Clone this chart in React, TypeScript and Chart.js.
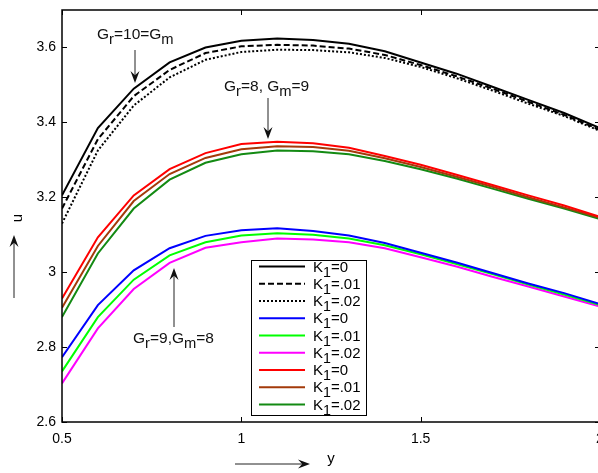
import React, { useEffect, useRef } from "react";
import { Chart, registerables } from "chart.js";
Chart.register(...registerables);

const FONT = "'Liberation Sans', Arial, Helvetica, sans-serif";

// x positions (y coordinate in the physical problem)
const xValues = [0.5, 0.6, 0.7, 0.8, 0.9, 1.0, 1.1, 1.2, 1.3, 1.4, 1.5, 1.6, 1.7, 1.8, 1.9, 2.0];

// Gr = 10 = Gm
const grp1K0 = [3.205, 3.385, 3.49, 3.56, 3.6, 3.618, 3.624, 3.62, 3.61, 3.59, 3.56, 3.53, 3.495, 3.46, 3.425, 3.385];
const grp1K01 = [3.17, 3.355, 3.47, 3.54, 3.585, 3.603, 3.607, 3.605, 3.597, 3.58, 3.553, 3.523, 3.49, 3.455, 3.42, 3.38];
const grp1K02 = [3.13, 3.325, 3.445, 3.52, 3.567, 3.588, 3.594, 3.593, 3.587, 3.572, 3.548, 3.518, 3.485, 3.45, 3.417, 3.377];

// Gr = 9, Gm = 8
const grp2K0 = [2.773, 2.912, 3.005, 3.064, 3.097, 3.112, 3.117, 3.11, 3.098, 3.078, 3.052, 3.026, 2.998, 2.97, 2.944, 2.915];
const grp2K01 = [2.735, 2.88, 2.98, 3.045, 3.08, 3.098, 3.104, 3.1, 3.09, 3.072, 3.048, 3.022, 2.995, 2.967, 2.94, 2.912];
const grp2K02 = [2.703, 2.85, 2.955, 3.025, 3.065, 3.08, 3.09, 3.087, 3.08, 3.064, 3.04, 3.015, 2.988, 2.962, 2.935, 2.908];

// Gr = 8, Gm = 9
const grp3K0 = [2.93, 3.093, 3.205, 3.275, 3.318, 3.342, 3.348, 3.344, 3.332, 3.31, 3.287, 3.26, 3.233, 3.205, 3.178, 3.148];
const grp3K01 = [2.905, 3.07, 3.19, 3.262, 3.305, 3.328, 3.336, 3.334, 3.324, 3.304, 3.281, 3.255, 3.228, 3.2, 3.173, 3.145];
const grp3K02 = [2.88, 3.05, 3.17, 3.247, 3.292, 3.315, 3.325, 3.323, 3.315, 3.297, 3.275, 3.25, 3.223, 3.196, 3.17, 3.142];

const seriesData = [grp1K0, grp1K01, grp1K02, grp2K0, grp2K01, grp2K02, grp3K0, grp3K01, grp3K02];
const seriesColors = ["#000000", "#000000", "#000000", "#0000ff", "#00ff00", "#ff00ff", "#ff0000", "#a33a0a", "#138a13"];
const seriesDash: number[][] = [[], [6, 3], [2, 2], [], [], [], [], [], []];
const legendValues = ["0", ".01", ".02", "0", ".01", ".02", "0", ".01", ".02"];

const xTicks = [0.5, 1, 1.5, 2];
const xTickLabels = ["0.5", "1", "1.5", "2"];
const yTicks = [2.6, 2.8, 3.0, 3.2, 3.4, 3.6];
const yTickLabels = ["2.6", "2.8", "3", "3.2", "3.4", "3.6"];

type Part = [string, boolean];

function drawRich(ctx: CanvasRenderingContext2D, x: number, y: number, parts: Part[], size: number) {
  let cx = x;
  ctx.textAlign = "left";
  ctx.textBaseline = "alphabetic";
  for (const [t, sub] of parts) {
    const s = sub ? size * 0.95 : size;
    ctx.font = `${s}px ${FONT}`;
    ctx.fillText(t, cx, sub ? y + 5 : y);
    cx += ctx.measureText(t).width;
  }
}

function arrow(ctx: CanvasRenderingContext2D, x1: number, y1: number, x2: number, y2: number) {
  const ang = Math.atan2(y2 - y1, x2 - x1);
  const L = 12, W = 4.5;
  ctx.strokeStyle = "#222";
  ctx.fillStyle = "#111";
  ctx.lineWidth = 1;
  ctx.beginPath();
  ctx.moveTo(x1, y1);
  ctx.lineTo(x2 - Math.cos(ang) * 6, y2 - Math.sin(ang) * 6);
  ctx.stroke();
  const bx = x2 - Math.cos(ang) * L;
  const by = y2 - Math.sin(ang) * L;
  const nx = -Math.sin(ang), ny = Math.cos(ang);
  const mx = x2 - Math.cos(ang) * (L * 0.65);
  const my = y2 - Math.sin(ang) * (L * 0.65);
  ctx.beginPath();
  ctx.moveTo(x2, y2);
  ctx.lineTo(bx + nx * W, by + ny * W);
  ctx.lineTo(mx, my);
  ctx.lineTo(bx - nx * W, by - ny * W);
  ctx.closePath();
  ctx.fill();
}

const decorPlugin = {
  id: "decor",
  afterDraw(chart: any) {
    const ctx: CanvasRenderingContext2D = chart.ctx;
    const { left, right, top, bottom } = chart.chartArea;
    const xs = chart.scales.x;
    const ys = chart.scales.y;
    ctx.save();
    // box
    ctx.strokeStyle = "#000";
    ctx.lineWidth = 1.5;
    ctx.strokeRect(left, top, right - left, bottom - top);
    // inward ticks
    ctx.lineWidth = 1;
    ctx.beginPath();
    for (const v of yTicks) {
      const py = Math.round(ys.getPixelForValue(v)) + 0.5;
      ctx.moveTo(left, py); ctx.lineTo(left + 5, py);
      ctx.moveTo(right, py); ctx.lineTo(right - 5, py);
    }
    for (const v of xTicks) {
      const px = Math.round(xs.getPixelForValue(v)) + 0.5;
      ctx.moveTo(px, bottom); ctx.lineTo(px, bottom - 5);
      ctx.moveTo(px, top); ctx.lineTo(px, top + 5);
    }
    ctx.stroke();

    // legend
    const lx = 251, ly = 260, lw = 115, lh = 155;
    ctx.fillStyle = "#fff";
    ctx.fillRect(lx, ly, lw, lh);
    ctx.strokeStyle = "#000";
    ctx.lineWidth = 1;
    ctx.strokeRect(lx + 0.5, ly + 0.5, lw, lh);
    for (let i = 0; i < seriesColors.length; i++) {
      const ry = 266.5 + i * 17.25;
      ctx.strokeStyle = seriesColors[i];
      ctx.lineWidth = 2;
      ctx.setLineDash(seriesDash[i]);
      ctx.beginPath();
      ctx.moveTo(259, ry);
      ctx.lineTo(305, ry);
      ctx.stroke();
      ctx.setLineDash([]);
      ctx.fillStyle = "#000";
      drawRich(ctx, 313, ry + 5, [["K", false], ["1", true], ["=" + legendValues[i], false]], 15);
    }

    // annotations
    ctx.fillStyle = "#111";
    drawRich(ctx, 97, 39, [["G", false], ["r", true], ["=10=G", false], ["m", true]], 15.5);
    arrow(ctx, 135, 50, 135, 83);
    drawRich(ctx, 224, 91, [["G", false], ["r", true], ["=8, G", false], ["m", true], ["=9", false]], 15.5);
    arrow(ctx, 268, 98, 268, 139);
    drawRich(ctx, 133, 343, [["G", false], ["r", true], ["=9,G", false], ["m", true], ["=8", false]], 15.5);
    arrow(ctx, 174, 327, 174, 268);

    // axis labels with arrows
    arrow(ctx, 14, 298, 14, 235);
    ctx.save();
    ctx.translate(22, 218);
    ctx.rotate(-Math.PI / 2);
    ctx.fillStyle = "#000";
    ctx.font = `15px ${FONT}`;
    ctx.textAlign = "center";
    ctx.textBaseline = "alphabetic";
    ctx.fillText("u", 0, 0);
    ctx.restore();
    arrow(ctx, 235, 464, 310, 464);
    ctx.fillStyle = "#000";
    ctx.font = `15px ${FONT}`;
    ctx.textAlign = "center";
    ctx.textBaseline = "alphabetic";
    ctx.fillText("y", 331, 463);
    ctx.restore();
  },
};

export default function App() {
  const ref = useRef<HTMLCanvasElement>(null);
  useEffect(() => {
    if (!ref.current) return;
    const datasets = seriesData.map((arr, i) => ({
      data: arr.map((v, j) => ({ x: xValues[j], y: v })),
      borderColor: seriesColors[i],
      borderDash: seriesDash[i],
      borderWidth: 2,
      pointRadius: 0,
      tension: 0,
      fill: false,
    }));
    const chart = new Chart(ref.current, {
      type: "line",
      data: { datasets },
      plugins: [decorPlugin],
      options: {
        animation: false,
        responsive: false,
        layout: { padding: { left: 0, right: 20, top: 10, bottom: 0 } },
        plugins: { legend: { display: false }, tooltip: { enabled: false } },
        scales: {
          x: {
            type: "linear",
            min: 0.5,
            max: 2,
            afterBuildTicks: (s: any) => { s.ticks = xTicks.map((v) => ({ value: v })); },
            afterFit: (s: any) => { s.height = 51; s.paddingLeft = 0; s.paddingRight = 0; },
            grid: { display: false, drawTicks: false },
            border: { display: false },
            ticks: {
              padding: 9,
              color: "#000",
              font: { family: FONT, size: 14 },
              maxRotation: 0,
              autoSkip: false,
              callback: (v: any) => xTickLabels[xTicks.indexOf(Number(v))] ?? "",
            },
          },
          y: {
            type: "linear",
            min: 2.6,
            max: 3.7,
            afterBuildTicks: (s: any) => { s.ticks = yTicks.map((v) => ({ value: v })); },
            afterFit: (s: any) => { s.width = 62; s.paddingTop = 0; s.paddingBottom = 0; },
            grid: { display: false, drawTicks: false },
            border: { display: false },
            ticks: {
              padding: 6,
              color: "#000",
              font: { family: FONT, size: 14 },
              autoSkip: false,
              callback: (v: any) => {
                const idx = yTicks.findIndex((t) => Math.abs(t - Number(v)) < 1e-6);
                return idx >= 0 ? yTickLabels[idx] : "";
              },
            },
          },
        },
      },
    } as any);
    return () => chart.destroy();
  }, []);
  return (
    <div style={{ position: "fixed", left: 0, top: 0, width: 598, height: 473, overflow: "hidden", background: "#fff" }}>
      <canvas ref={ref} width={620} height={473} style={{ display: "block" }} />
    </div>
  );
}
